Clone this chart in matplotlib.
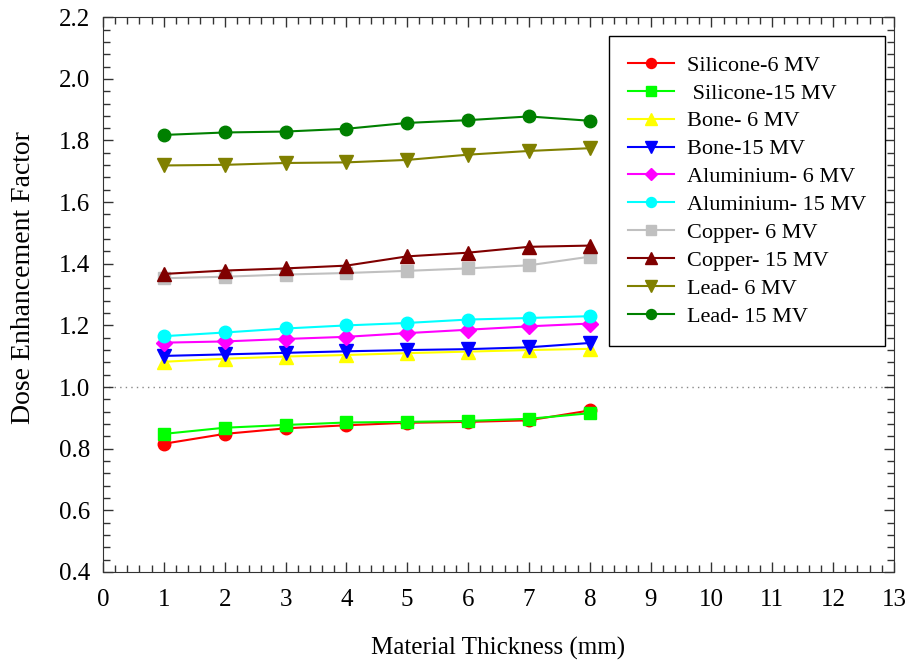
import matplotlib.pyplot as plt
from matplotlib.ticker import MultipleLocator

# Data
thickness = [1, 2, 3, 4, 5, 6, 7, 8]

silicone_6 = [0.816, 0.848, 0.866, 0.876, 0.884, 0.887, 0.892, 0.924]
silicone_15 = [0.848, 0.868, 0.877, 0.885, 0.887, 0.890, 0.897, 0.915]
bone_6 = [1.082, 1.092, 1.099, 1.104, 1.110, 1.115, 1.120, 1.124]
bone_15 = [1.101, 1.106, 1.111, 1.116, 1.120, 1.123, 1.129, 1.143]
aluminium_6 = [1.144, 1.148, 1.156, 1.163, 1.175, 1.186, 1.197, 1.206]
aluminium_15 = [1.165, 1.177, 1.190, 1.200, 1.208, 1.219, 1.224, 1.230]
copper_6 = [1.353, 1.358, 1.365, 1.370, 1.377, 1.385, 1.395, 1.423]
copper_15 = [1.367, 1.378, 1.385, 1.394, 1.424, 1.436, 1.455, 1.459]
lead_6 = [1.719, 1.721, 1.727, 1.729, 1.737, 1.754, 1.766, 1.775]
lead_15 = [1.818, 1.826, 1.829, 1.838, 1.857, 1.866, 1.878, 1.864]

labels = ["Silicone-6 MV", " Silicone-15 MV", "Bone- 6 MV", "Bone-15 MV",
          "Aluminium- 6 MV", "Aluminium- 15 MV", "Copper- 6 MV",
          "Copper- 15 MV", "Lead- 6 MV", "Lead- 15 MV"]
series = [silicone_6, silicone_15, bone_6, bone_15, aluminium_6,
          aluminium_15, copper_6, copper_15, lead_6, lead_15]
colors = ["#ff0000", "#00ff00", "#ffff00", "#0000ff", "#ff00ff",
          "#00ffff", "#c0c0c0", "#800000", "#808000", "#008000"]
markers = ["o", "s", "^", "v", "D", "o", "s", "^", "v", "o"]
sizes = [9, 9, 10, 10, 8, 9, 9, 10, 10, 9]

plt.rcParams["font.family"] = ["Liberation Serif", "DejaVu Serif"]

fig = plt.figure(figsize=(9.09, 6.62), dpi=100)
ax = fig.add_axes([0.1133, 0.136, 0.8702, 0.838])

ax.axhline(1.0, color="#888888", linestyle=(0, (1, 3)), linewidth=1, zorder=1)

for y, lab, c, m, s in zip(series, labels, colors, markers, sizes):
    ax.plot(thickness, y, color=c, marker=m, markersize=s, linewidth=1.5,
            label=lab, zorder=3)

ax.set_xlim(0, 13)
ax.set_ylim(0.4, 2.2)
ax.xaxis.set_major_locator(MultipleLocator(1))
ax.xaxis.set_minor_locator(MultipleLocator(0.2))
ax.yaxis.set_major_locator(MultipleLocator(0.2))
ax.yaxis.set_minor_locator(MultipleLocator(0.04))
ax.yaxis.set_major_formatter(plt.FuncFormatter(lambda v, p: f"{v:.1f}"))

for sp in ax.spines.values():
    sp.set_color("#333333")

ax.tick_params(which="both", direction="in", top=True, right=True,
               labelsize=18, width=1, color="#333333")
ax.tick_params(which="major", length=7.5)
ax.tick_params(which="minor", length=5)
ax.tick_params(axis="x", which="major", pad=12)
ax.tick_params(axis="y", which="major", pad=9)

ax.set_xlabel("Material Thickness (mm)", fontsize=18, labelpad=19)
ax.set_ylabel("Dose Enhancement Factor", fontsize=20)
ax.yaxis.set_label_coords(-0.085, 0.53)

leg = ax.legend(loc="upper right", bbox_to_anchor=(0.9886, 0.9658),
                fontsize=16, frameon=True, fancybox=False, framealpha=1,
                edgecolor="black", handlelength=2.1, markerscale=0.8,
                labelspacing=0.33, borderpad=0.85, handletextpad=0.55,
                borderaxespad=0)
leg.get_frame().set_linewidth(1)

fig.savefig("out.png", dpi=100)
